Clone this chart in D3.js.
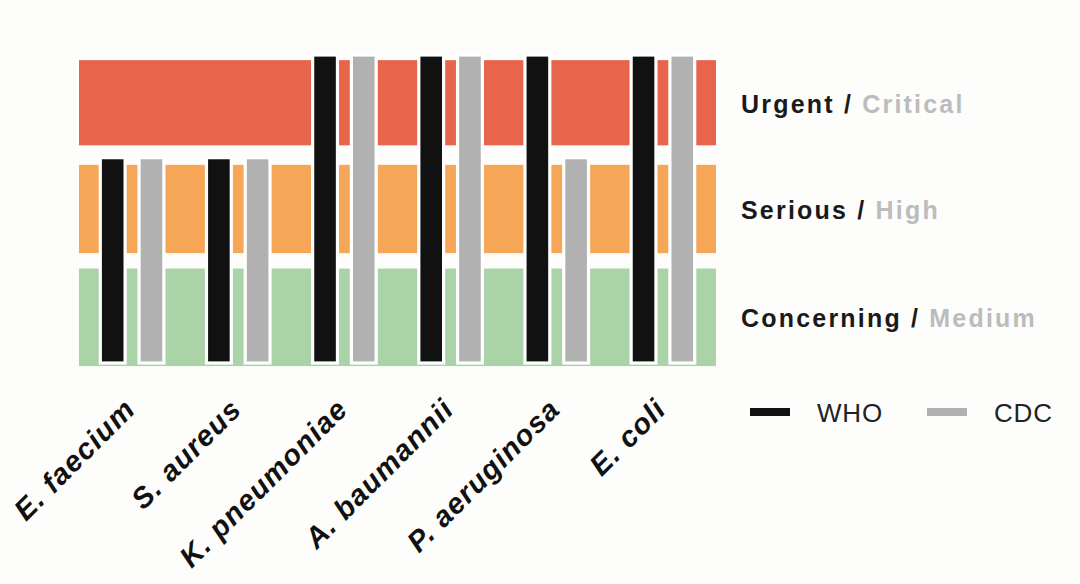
<!DOCTYPE html>
<html>
<head>
<meta charset="utf-8">
<script src="https://cdn.jsdelivr.net/npm/d3@7"></script>
<style>
  html, body { margin: 0; padding: 0; background: #fdfdfc; }
  svg { display: block; font-family: "Liberation Sans", Arial, sans-serif; }
</style>
</head>
<body>
<div id="chart"></div>
<script>
// pathogens and priority level (1 = medium / concerning, 2 = high / serious, 3 = critical / urgent)
var categories = ["E. faecium", "S. aureus", "K. pneumoniae", "A. baumannii", "P. aeruginosa", "E. coli"];
var whoLevel = [2, 2, 3, 3, 3, 3];
var cdcLevel = [2, 2, 3, 3, 2, 3];
var series = ["WHO", "CDC"];

// background bands, in level units
var levelCdc = ["Concerning", "Serious", "Urgent"];
var levelWho = ["Medium", "High", "Critical"];
var bandLow = [-0.03, 1.07, 2.12];
var bandHigh = [0.92, 1.93, 2.95];
var bandColors = ["#abd3a8", "#f5a757", "#e8654b"];

var width = 1080, height = 584;

var svg = d3.select("#chart")
  .append("svg")
    .attr("width", width)
    .attr("height", height);

svg.append("rect")
  .attr("width", width)
  .attr("height", height)
  .attr("fill", "#fdfdfc");

var x0 = d3.scaleBand()
  .domain(categories)
  .range([79, 716]);

var x1 = d3.scaleBand()
  .domain(series)
  .range([0, x0.bandwidth()])
  .paddingInner(0.36)
  .paddingOuter(0.55);

var y = d3.scaleLinear()
  .domain([0, 3])
  .range([363, 55]);

var color = d3.scaleOrdinal()
  .domain(series)
  .range(["#111111", "#b1b1b1"]);

// bands
svg.append("g")
  .selectAll("rect")
  .data(bandColors)
  .enter()
  .append("rect")
    .attr("x", x0.range()[0])
    .attr("width", x0.range()[1] - x0.range()[0])
    .attr("y", function (d, i) { return y(bandHigh[i]); })
    .attr("height", function (d, i) { return y(bandLow[i]) - y(bandHigh[i]); })
    .attr("fill", function (d) { return d; });

// bars
var rows = categories.map(function (c, i) {
  return {cat: c, values: [{key: "WHO", v: whoLevel[i]}, {key: "CDC", v: cdcLevel[i]}]};
});

svg.append("g")
  .selectAll("g")
  .data(rows)
  .enter()
  .append("g")
    .attr("transform", function (d) { return "translate(" + x0(d.cat) + ",0)"; })
  .selectAll("rect")
  .data(function (d) { return d.values; })
  .enter()
  .append("rect")
    .attr("x", function (d) { return x1(d.key); })
    .attr("width", x1.bandwidth())
    .attr("y", function (d) { return y(d.v); })
    .attr("height", function (d) { return y(0) - y(d.v); })
    .attr("fill", function (d) { return color(d.key); })
    .attr("stroke", "#ffffff")
    .attr("stroke-width", 3.2);

// level labels on the right
var lab = svg.append("g")
  .selectAll("text")
  .data(levelCdc)
  .enter()
  .append("text")
    .attr("x", 741)
    .attr("y", function (d, i) { return y((bandLow[i] + bandHigh[i]) / 2) + 10; })
    .style("font-size", "25px")
    .style("font-weight", "bold")
    .style("letter-spacing", "2.2px");
lab.append("tspan")
  .attr("fill", "#1a1a1a")
  .text(function (d) { return d + " / "; });
lab.append("tspan")
  .attr("fill", "#bcbcbc")
  .text(function (d, i) { return levelWho[i]; });

// category labels
svg.append("g")
  .selectAll("text")
  .data(categories)
  .enter()
  .append("text")
    .attr("text-anchor", "end")
    .attr("transform", function (d) {
      return "translate(" + (x0(d) + x0.bandwidth() / 2 + 5) + ",411) rotate(-45)";
    })
    .style("font-size", "29px")
    .style("font-weight", "bold")
    .style("font-style", "italic")
    .style("letter-spacing", "1.2px")
    .attr("fill", "#111111")
    .text(function (d) { return d; });

// legend
var legX = d3.scaleOrdinal()
  .domain(series)
  .range([750, 927]);

var leg = svg.append("g")
  .selectAll("g")
  .data(series)
  .enter()
  .append("g")
    .attr("transform", function (d) { return "translate(" + legX(d) + ",412)"; });
leg.append("line")
  .attr("x1", 0)
  .attr("x2", 40)
  .attr("stroke", function (d) { return color(d); })
  .attr("stroke-width", 8);
leg.append("text")
  .attr("x", 67)
  .attr("y", 10)
  .style("font-size", "26px")
  .style("letter-spacing", "0.8px")
  .attr("fill", "#222222")
  .text(function (d) { return d; });
</script>
</body>
</html>
